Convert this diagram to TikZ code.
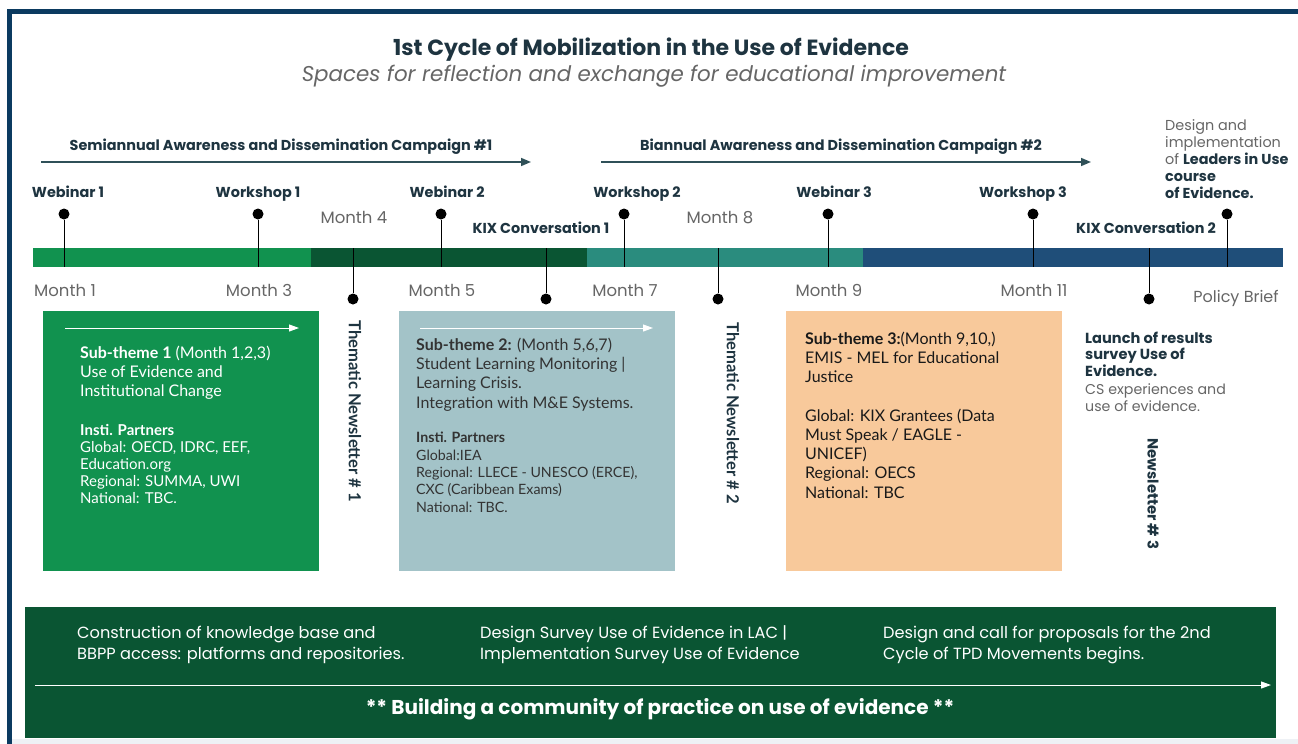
\documentclass[tikz,border=0pt]{standalone}
\usepackage{fontspec}
\setmainfont{Poppins}
\newfontfamily\latofont{Lato}
\usetikzlibrary{arrows.meta}
\definecolor{framblue}{HTML}{0B3A60}
\definecolor{inkdark}{HTML}{1E3440}
\definecolor{slate}{HTML}{2F5058}
\definecolor{greytxt}{HTML}{666666}
\definecolor{barA}{HTML}{11924F}
\definecolor{barB}{HTML}{0A5533}
\definecolor{barC}{HTML}{2A8C7E}
\definecolor{barD}{HTML}{1F4E79}
\definecolor{boxgrey}{HTML}{A3C3C8}
\definecolor{boxpeach}{HTML}{F8C99B}
\definecolor{bottomgrey}{HTML}{EEF1F5}
\tikzset{
  pin/.style={line width=1pt, black},
  dot/.style={circle, fill=black, inner sep=0pt, minimum size=11pt},
  evlabel/.style={font=\fontsize{14.4}{16}\selectfont\bfseries, text=inkdark, inner sep=0pt, anchor=base},
  monthlabel/.style={font=\fontsize{16.5}{18}\selectfont, text=greytxt, inner sep=0pt, anchor=base},
  campaign/.style={draw=slate, line width=1.6pt, -{Triangle[length=10pt,width=8pt]}},
  whitearrow/.style={draw=white, line width=1pt, -{Triangle[length=10pt,width=7pt]}},
  newsletter/.style={font=\latofont\fontsize{16.6}{18}\selectfont\bfseries, text=inkdark, rotate=-90, inner sep=0pt},
  % multi-line texts are placed by the baseline of their last line
  boxtext/.style={font=\latofont\fontsize{16}{19.2}\selectfont, align=left, anchor=base west, inner sep=0pt},
  parttext/.style={font=\latofont\fontsize{14.6}{17.2}\selectfont, align=left, anchor=base west, inner sep=0pt},
  bandtext/.style={font=\fontsize{16.2}{21}\selectfont, text=white, align=left, anchor=base west, inner sep=0pt},
  sidetext/.style={font=\fontsize{14.4}{17}\selectfont, align=left, anchor=base west, inner sep=0pt}
}
\begin{document}
\begin{tikzpicture}[x=1pt,y=-1pt]
\useasboundingbox (0,0) rectangle (1298,744);
\fill[white] (0,0) rectangle (1298,744);
\fill[bottomgrey] (12,739) rectangle (1298,744);
\draw[line width=5pt, framblue] (9.5,744) -- (9.5,11) -- (1298,11);

% titles
\node[font=\fontsize{22}{24}\selectfont\bfseries, text=inkdark, anchor=base] (title) at (651,55.5) {1st Cycle of Mobilization in the Use of Evidence};
\node[font=\fontsize{21.4}{24}\selectfont\itshape, text=greytxt, anchor=base] (subtitle) at (654,81.5) {Spaces for reflection and exchange for educational improvement};

% campaigns
\node[evlabel] (camp1) at (281,150) {Semiannual Awareness and Dissemination Campaign \#1};
\node[evlabel] (camp2) at (841,150) {Biannual Awareness and Dissemination Campaign \#2};
\coordinate (c1s) at (41,162); \coordinate (c1e) at (531,162);
\coordinate (c2s) at (601,162); \coordinate (c2e) at (1091,162);
\draw[campaign] (c1s) -- (c1e);
\draw[campaign] (c2s) -- (c2e);

% timeline bar
\fill[barA] (33,248) rectangle (311,267);
\fill[barB] (311,248) rectangle (587,267);
\fill[barC] (587,248) rectangle (863,267);
\fill[barD] (863,248) rectangle (1283,267);

% pins above the bar
\foreach \px/\nm in {64/web1, 258/wks1, 441/web2, 624/wks2, 828/web3, 1033/wks3, 1227/lead}{
  \node[dot] (\nm) at (\px,214) {};
  \coordinate (\nm-b) at (\px,267);
  \draw[pin] (\nm) -- (\nm-b);
}
% pins below the bar
\foreach \px/\nm in {353/nl1, 546/kix1, 718/nl2, 1149/kix2}{
  \node[dot] (\nm) at (\px,299) {};
  \coordinate (\nm-t) at (\px,248);
  \draw[pin] (\nm-t) -- (\nm);
}

% event labels
\foreach \px/\txt in {68/Webinar 1, 258/Workshop 1, 447/Webinar 2, 637/Workshop 2, 834/Webinar 3, 1023/Workshop 3}{
  \node[evlabel] at (\px,197) {\txt};
}
\node[evlabel] (kixlab1) at (541,233) {KIX Conversation 1};
\node[evlabel] (kixlab2) at (1146,233) {KIX Conversation 2};

% month labels
\foreach \px/\txt in {65/Month 1, 259/Month 3, 442/Month 5, 625/Month 7, 829/Month 9, 1034/Month 11}{
  \node[monthlabel] at (\px,296) {\txt};
}
\node[monthlabel] (m4) at (354,223) {Month 4};
\node[monthlabel] (m8) at (720,223) {Month 8};
\node[monthlabel, font=\fontsize{16}{18}\selectfont] (brief) at (1236,302) {Policy Brief};

\node[sidetext, text=greytxt] (leaders) at (1165,198) {Design and\\implementation\\of \textbf{\color{inkdark}Leaders in Use}\\\textbf{\color{inkdark}course}\\\textbf{\color{inkdark}of Evidence.}};

% sub-theme boxes
\fill[barA] (43,311) rectangle (319,571);
\coordinate (a1s) at (65,328); \coordinate (a1e) at (299,328);
\draw[whitearrow] (a1s) -- (a1e);
\node[boxtext, text=white] (st1) at (80,396.5) {\textbf{Sub-theme 1} (Month 1,2,3)\\Use of Evidence and\\Institutional Change};
\node[parttext, text=white, font=\latofont\fontsize{15}{17}\selectfont] (pt1) at (80,503) {\textbf{Insti. Partners}\\Global: OECD, IDRC, EEF,\\Education.org\\Regional: SUMMA, UWI\\National: TBC.};

\node[newsletter] (tn1) at (355,411) {Thematic Newsletter \# 1};

\fill[boxgrey] (399,311) rectangle (675,571);
\coordinate (a2s) at (420,328); \coordinate (a2e) at (653,328);
\draw[whitearrow] (a2s) -- (a2e);
\node[boxtext, text=black!80] (st2) at (416,408) {\textbf{Sub-theme 2:} (Month 5,6,7)\\Student Learning Monitoring |\\Learning Crisis.\\Integration with M\&E Systems.};
\node[parttext, text=black!80, font=\latofont\fontsize{14.2}{17.3}\selectfont] (pt2) at (416,512) {\textbf{Insti. Partners}\\Global:IEA\\Regional: LLECE - UNESCO (ERCE),\\CXC (Caribbean Exams)\\National: TBC.};

\node[newsletter] (tn2) at (733,413) {Thematic Newsletter \# 2};

\fill[boxpeach] (786,311) rectangle (1062,571);
\node[boxtext, text=black!90] (st3) at (805,498) {\textbf{Sub-theme 3:}(Month 9,10,)\\EMIS - MEL for Educational\\Justice\\[19.2pt]Global: KIX Grantees (Data\\Must Speak / EAGLE -\\UNICEF)\\Regional: OECS\\National: TBC};

\node[sidetext, text=inkdark, font=\fontsize{14.6}{16.5}\selectfont\bfseries] (launch) at (1085,376) {Launch of results\\survey Use of\\Evidence.};
\node[sidetext, text=greytxt, font=\fontsize{14.2}{17}\selectfont] (cs) at (1085,411) {CS experiences and\\use of evidence.};
\node[newsletter, font=\fontsize{14.8}{16}\selectfont\bfseries] (tn3) at (1153,494) {Newsletter \# 3};

% community band
\fill[barB] (25,607) rectangle (1276,738);
\node[bandtext] (bd1) at (77,659) {Construction of knowledge base and\\BBPP access: platforms and repositories.};
\node[bandtext] (bd2) at (480,659) {Design Survey Use of Evidence in LAC |\\Implementation Survey Use of Evidence};
\node[bandtext] (bd3) at (883,659) {Design and call for proposals for the 2nd\\Cycle of TPD Movements begins.};
\coordinate (a3s) at (35,685); \coordinate (a3e) at (1271,685);
\draw[whitearrow] (a3s) -- (a3e);
\node[font=\fontsize{20}{22}\selectfont\bfseries, text=white, anchor=base] (community) at (660,714) {** Building a community of practice on use of evidence **};
\end{tikzpicture}
\end{document}
